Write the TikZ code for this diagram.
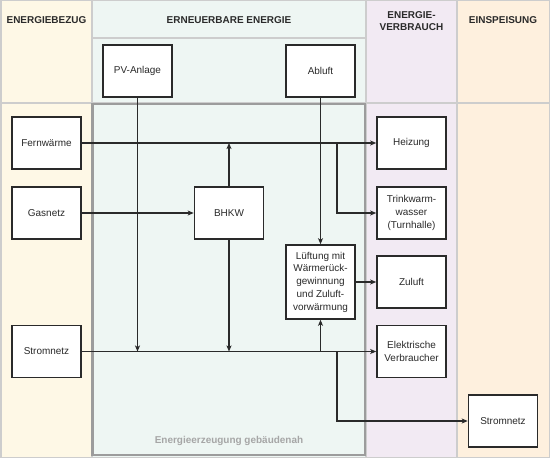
\documentclass[tikz,border=0pt]{standalone}
\usepackage{fontspec}
\setmainfont{Liberation Sans}
\usetikzlibrary{arrows.meta}
\definecolor{colA}{HTML}{FEF8E6}
\definecolor{colB}{HTML}{EEF6F3}
\definecolor{colC}{HTML}{F2EAF3}
\definecolor{colD}{HTML}{FEF0DE}
\definecolor{sep}{HTML}{CDCDCD}
\definecolor{grp}{HTML}{9C9C9C}
\definecolor{grptext}{HTML}{A6A6A6}
\definecolor{ink}{HTML}{2A2A2A}
\begin{document}
\begin{tikzpicture}[x=1bp,y=-1bp,
  box/.style={draw=ink, line width=1.6bp, fill=white, minimum width=69bp, minimum height=52bp,
    inner sep=1bp, align=center, font=\fontsize{10}{12.8}\selectfont, text=ink},
  hdr/.style={font=\bfseries\fontsize{10}{12}\selectfont, align=center, text=ink},
  conn/.style={draw=ink, line width=1.3bp},
  arr/.style={conn, -{Stealth[length=6bp,width=5bp,inset=1.5bp]}}
]
\useasboundingbox (0,0) rectangle (550,458);
% columns
\fill[colA] (0,0) rectangle (92,458);
\fill[colB] (92,0) rectangle (366,458);
\fill[colC] (366,0) rectangle (457,458);
\fill[colD] (457,0) rectangle (550,458);
\draw[sep, line width=1.5bp] (92,0) -- (92,458);
\draw[sep, line width=1.5bp] (366,0) -- (366,458);
\draw[sep, line width=1.5bp] (457,0) -- (457,458);
\draw[sep, line width=1.5bp] (0,103) -- (550,103);
\draw[sep, line width=1.5bp] (92,38) -- (366,38);
\draw[sep, line width=1.5bp] (0.75,0.75) rectangle (549.25,457.25);
% headers
\node[hdr] (h1) at (46.5,20.5) {ENERGIEBEZUG};
\node[hdr] (h2) at (229,20.5) {ERNEUERBARE ENERGIE};
\node[hdr] (h3) at (411.5,21) {ENERGIE-\\VERBRAUCH};
\node[hdr] (h4) at (503,20.5) {EINSPEISUNG};
% group box
\draw[grp, line width=2.2bp] (92.5,104) rectangle (365,455);
\node[font=\bfseries\fontsize{10}{12}\selectfont, text=grptext] (glabel) at (229,441) {Energieerzeugung gebäudenah};
% boxes
\node[box] (pv) at (137.5,71) {PV-Anlage};
\node[box] (ab) at (320.5,71) {Abluft};
\node[box] (fw) at (46.5,143) {Fernwärme};
\node[box] (gas) at (46.5,213) {Gasnetz};
\node[box] (bhkw) at (229,213) {BHKW};
\node[box] (hz) at (411.5,143) {Heizung};
\node[box] (tw) at (411.5,213) {Trinkwarm-\\wasser\\(Turnhalle)};
\node[box, minimum height=74bp] (lu) at (320.5,282) {Lüftung mit\\Wärmerück-\\gewinnung\\und Zuluft-\\vorwärmung};
\node[box] (zu) at (411.5,282) {Zuluft};
\node[box] (ev) at (411.5,351.5) {Elektrische\\Verbraucher};
\node[box] (sl) at (46.5,351.5) {Stromnetz};
\node[box] (sr) at (503,421) {Stromnetz};
% connectors
\coordinate (b1) at (337,143);
\coordinate (b2) at (337,351.5);
\draw[arr] (fw) -- (hz);
\draw[arr] (gas) -- (bhkw);
\draw[arr] (bhkw.north) -- (bhkw.north |- fw.east);
\draw[arr] (pv.south) -- (pv.south |- sl.east);
\draw[arr] (bhkw.south) -- (bhkw.south |- sl.east);
\draw[arr] (ab) -- (lu);
\draw[arr] (lu) -- (zu);
\draw[arr] (sl) -- (ev);
\draw[arr] (lu.south |- sl.east) -- (lu.south);
\draw[arr] (b1) |- (tw.west);
\draw[arr] (b2) |- (sr.west);
\end{tikzpicture}
\end{document}
